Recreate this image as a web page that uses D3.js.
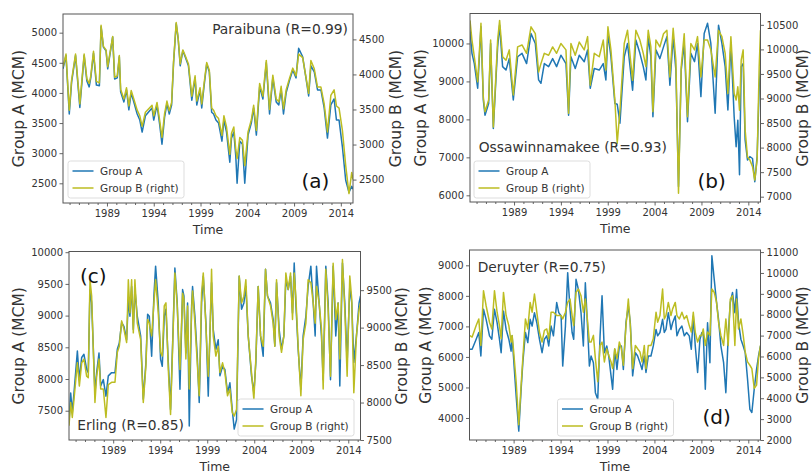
<!DOCTYPE html>
<html><head><meta charset="utf-8">
<script src="https://cdn.jsdelivr.net/npm/d3@7"></script>
<style>body{margin:0;background:#fff}svg{display:block}</style>
</head><body>
<svg id="chart" width="812" height="472"></svg>
<script>
// ---------- shared axis values ----------
const timeDomain = [1984.3, 2015.3];
const timeTicks = [1989, 1994, 1999, 2004, 2009, 2014];
const minorTimeTicks = d3.range(1985, 2016).filter(y => !timeTicks.includes(y));
const seriesNames = ["Group A", "Group B (right)"];

// ---------- (a) Paraibuna ----------
const paraibunaTime = [
1984.30,1984.62,1984.97,1985.22,1985.64,1986.10,1986.56,1986.85,1987.10,1987.27,
1987.56,1987.87,1988.19,1988.37,1988.62,1988.90,1989.08,1989.40,1989.61,1989.82,
1990.10,1990.32,1990.46,1990.81,1991.09,1991.34,1991.59,1991.87,1992.23,1992.51,
1992.76,1993.11,1993.54,1993.82,1994.00,1994.35,1994.63,1994.88,1995.16,1995.41,
1995.66,1995.91,1996.12,1996.40,1996.61,1996.83,1997.11,1997.36,1997.71,1998.07,
1998.42,1998.60,1998.95,1999.13,1999.37,1999.66,1999.94,2000.19,2000.40,2000.65,
2000.93,2001.29,2001.50,2001.78,2002.13,2002.31,2002.56,2002.77,2002.91,2003.20,
2003.48,2003.73,2004.08,2004.43,2004.68,2004.97,2005.32,2005.67,2006.03,2006.38,
2006.73,2007.09,2007.37,2007.62,2007.87,2008.15,2008.50,2008.86,2009.21,2009.49,
2009.92,2010.27,2010.56,2010.80,2011.16,2011.51,2011.87,2012.22,2012.57,2012.93,
2013.28,2013.53,2013.81,2014.17,2014.52,2014.87,2015.16,2015.30];
const paraibunaA = [
4400,4620,3650,4180,4620,3760,4620,4200,4100,4250,
4660,4130,4120,5100,4760,4700,4400,4720,4930,4230,
4250,4600,4020,3850,4050,3720,4000,3850,3650,3550,
3350,3620,3700,3750,3550,3800,3480,3150,3600,3820,
3650,3800,4500,5150,4900,4450,4700,4600,4450,3880,
4250,3800,4050,3750,4100,4480,4350,3680,3650,3550,
3500,3200,3550,3350,2850,3250,3350,2950,2500,3200,
3150,2500,3300,3500,3750,3300,4100,3900,4500,3650,
4250,3850,3800,4050,3650,4000,4200,4380,4250,4740,
4600,4250,3950,4450,4350,4050,4050,3750,3250,3800,
3900,3550,3550,3100,2550,2350,2450,2400];
const paraibunaB = [
4110,4290,3490,3920,4290,3580,4290,3940,3870,3980,
4330,3900,3880,4700,4400,4350,4110,4370,4540,3960,
3980,4270,3790,3650,3810,3550,3770,3650,3490,3410,
3260,3460,3520,3560,3410,3600,3350,3100,3440,3620,
3480,3600,4190,4740,4520,4150,4350,4270,4150,3690,
3980,3620,3810,3580,3860,4170,4060,3520,3490,3410,
3370,3130,3410,3250,2860,3160,3250,2930,2800,3100,
3060,2700,3180,3350,3560,3200,3870,3690,4200,3500,
3990,3650,3610,3830,3510,3780,3940,4090,3980,4290,
4240,3960,3730,4200,4080,3820,3820,3580,3180,3700,
3780,3550,3520,3200,2700,2300,2600,2500];
const paraibunaLeftTicks = [2500,3000,3500,4000,4500,5000];
const paraibunaRightTicks = [2500,3000,3500,4000,4500];

// ---------- (b) Ossawinnamakee ----------
const ossaTime = [
1984.30,1984.51,1984.76,1985.12,1985.47,1985.72,1985.90,1986.29,1986.50,1986.79,
1987.25,1987.46,1987.78,1988.14,1988.49,1988.92,1989.38,1989.85,1990.34,1990.81,
1991.27,1991.62,1991.87,1992.23,1992.69,1993.12,1993.54,1994.00,1994.54,1994.82,
1995.07,1995.53,1995.96,1996.49,1996.85,1997.13,1997.56,1998.09,1998.52,1998.80,
1999.02,1999.34,1999.76,2000.01,2000.30,2000.76,2001.11,2001.65,2002.00,2002.43,
2002.79,2003.07,2003.32,2003.60,2003.82,2004.14,2004.56,2004.95,2005.31,2005.63,
2005.98,2006.27,2006.55,2006.84,2007.16,2007.51,2007.87,2008.26,2008.58,2008.94,
2009.29,2009.65,2010.00,2010.46,2010.82,2011.18,2011.53,2011.82,2012.14,2012.49,
2012.70,2012.88,2013.06,2013.24,2013.45,2013.66,2013.91,2014.16,2014.45,2014.69,
2014.94,2015.16,2015.30];
const ossaA = [
10350,9740,9470,8820,10440,8510,8110,8420,10000,7760,
9910,10480,9390,9300,9600,8510,9650,9740,9470,10260,
10000,9040,8950,9470,9390,9600,9390,9690,9470,8110,
9650,9340,9690,9520,9830,8820,9340,9300,9470,9040,
10260,9650,8420,8400,7900,9650,10000,8770,10090,9740,
9390,9040,10180,9650,8070,9830,9600,9910,10180,8900,
10180,9300,6230,9300,10000,7940,9740,9520,10000,8600,
10260,10530,10000,8160,10480,10000,9390,8250,10000,8070,
7280,7980,6540,9390,9470,7460,6930,7020,6970,6360,
7020,8860,9390];
const ossaB = [
10590,10190,9850,9340,10530,9030,8730,8970,10190,8420,
10190,10590,9850,9780,9990,9070,10050,10090,9920,10460,
10320,9540,9710,9920,9880,10050,9920,10120,9990,8700,
10120,9880,10150,9990,10260,9270,9920,9850,10190,9580,
10460,9990,8970,8090,8760,10120,10390,9370,10390,10190,
9920,9650,10390,10050,8730,10190,10050,10320,10390,9440,
10430,9780,7070,9650,10320,8630,10120,9990,10260,9440,
10190,10190,9990,9440,10390,10260,9920,9100,10260,9100,
8970,9240,8760,9780,9990,8360,7810,7750,7610,7340,
7750,9650,10390];
const ossaLeftTicks = [6000,7000,8000,9000,10000];
const ossaRightTicks = [7000,7500,8000,8500,9000,9500,10000,10500];

// ---------- (c) Erling ----------
const erlingTime = [
1984.30,1984.48,1984.65,1984.83,1985.19,1985.40,1985.65,1985.89,1986.18,1986.35,
1986.53,1986.71,1987.06,1987.24,1987.49,1987.67,1987.95,1988.23,1988.48,1988.83,
1989.19,1989.44,1989.65,1989.90,1990.14,1990.43,1990.61,1990.78,1990.96,1991.14,
1991.31,1991.56,1991.92,1992.20,1992.48,1992.66,1992.84,1993.09,1993.33,1993.51,
1993.79,1994.04,1994.22,1994.43,1994.61,1994.86,1995.10,1995.39,1995.56,1995.81,
1996.10,1996.38,1996.52,1996.73,1996.91,1997.09,1997.34,1997.44,1997.69,1997.94,
1998.15,1998.40,1998.58,1998.86,1999.11,1999.28,1999.46,1999.64,1999.92,2000.17,
2000.35,2000.63,2000.88,2001.16,2001.41,2001.66,2001.87,2002.12,2002.40,2002.65,
2002.90,2003.11,2003.36,2003.71,2003.96,2004.17,2004.42,2004.67,2004.95,2005.20,
2005.41,2005.73,2006.01,2006.19,2006.37,2006.65,2006.90,2007.15,2007.36,2007.61,
2007.86,2008.07,2008.25,2008.42,2008.67,2008.96,2009.20,2009.49,2009.73,2010.02,
2010.27,2010.48,2010.62,2010.90,2011.15,2011.33,2011.61,2011.86,2012.11,2012.39,
2012.67,2012.92,2013.10,2013.38,2013.63,2013.88,2014.16,2014.37,2014.59,2014.87,
2015.15,2015.30];
const erlingA = [
7310,7780,7470,7780,8440,7990,8340,8390,8150,8100,
9410,9200,7780,8100,8410,7890,7990,7730,8050,8100,
8100,8470,8570,8890,8830,8620,9250,8990,9460,8780,
9410,8990,8680,7680,8260,9020,8990,8360,9310,9780,
9200,8310,8200,8990,9100,8260,7520,8890,9750,9200,
7840,9410,9310,8410,9200,7260,9150,9460,8990,8360,
7630,9200,9620,8890,7730,8680,9520,8780,8470,8620,
8050,8200,8150,7780,7940,7520,7210,7360,9620,9100,
9200,9460,8680,8050,7780,8260,9460,8680,8360,9730,
9310,9200,8940,8520,9520,8780,8470,8680,9570,9410,
9620,9040,9830,9200,8470,7840,8680,8990,9460,9780,
9200,8680,9780,9200,8680,7990,9780,9200,7990,9780,
8680,9200,7890,9830,9200,8260,9460,9200,8260,8680,
9200,9310];
const erlingB = [
7690,8000,7800,8040,8530,8220,8530,8580,8350,8330,
9640,9420,8000,8350,8580,8180,8180,7800,8240,8270,
8270,8670,8750,9090,8980,8800,9640,9200,9640,8930,
9640,9060,8840,8000,8490,9110,9060,8890,9330,9640,
9200,8670,8620,9290,9330,8440,7840,9020,9730,9290,
8440,9460,9380,8580,9290,8180,9240,9490,9060,8530,
8090,9460,9730,9020,8350,8840,9780,8890,8620,8750,
8400,8530,8400,8090,8180,7870,7820,7910,9690,9330,
9420,9640,8890,8400,8040,8580,9550,8890,8750,9780,
9420,9290,9060,8750,9640,8890,8670,8890,9730,9510,
9730,9110,9730,9420,8750,8090,8840,9060,9640,9600,
9330,9060,9550,9330,8980,8180,9780,9240,8350,9860,
9110,9330,8580,9910,9240,8350,9690,9380,8130,8890,
9240,9330];
const erlingLeftTicks = [7500,8000,8500,9000,9500,10000];
const erlingRightTicks = [7500,8000,8500,9000,9500];

// ---------- (d) Deruyter ----------
const deruyterTime = [
1984.30,1984.58,1985.01,1985.29,1985.51,1985.79,1986.07,1986.43,1986.68,1986.96,
1987.24,1987.49,1987.67,1987.92,1988.20,1988.49,1988.73,1988.84,1988.98,1989.27,
1989.55,1989.80,1989.98,1990.26,1990.51,1990.76,1990.97,1991.22,1991.47,1991.75,
1992.03,1992.28,1992.53,1992.74,1992.99,1993.24,1993.59,1993.81,1994.06,1994.23,
1994.52,1994.76,1995.01,1995.23,1995.40,1995.65,1995.90,1996.18,1996.43,1996.64,
1996.89,1997.07,1997.25,1997.50,1997.71,1997.96,1998.21,1998.42,1998.67,1998.92,
1999.13,1999.38,1999.55,1999.77,2000.01,2000.26,2000.48,2000.69,2000.97,2001.22,
2001.43,2001.68,2001.97,2002.21,2002.46,2002.68,2002.92,2003.10,2003.35,2003.63,
2003.88,2004.17,2004.34,2004.59,2004.87,2005.05,2005.23,2005.48,2005.76,2005.94,
2006.22,2006.40,2006.65,2006.93,2007.18,2007.43,2007.71,2007.93,2008.14,2008.35,
2008.60,2008.85,2009.06,2009.20,2009.42,2009.66,2009.91,2010.12,2010.37,2010.62,
2010.83,2011.08,2011.37,2011.61,2011.86,2012.08,2012.32,2012.57,2012.75,2012.96,
2013.21,2013.46,2013.67,2013.92,2014.17,2014.38,2014.63,2014.88,2015.09,2015.30];
const deruyterA = [
6250,6250,6580,6800,6030,7560,7230,6690,6580,7560,
7120,6580,6140,7500,6900,6580,6190,6690,6030,4720,
3570,4940,5810,6800,6470,7230,7010,7450,7120,6580,
6140,6580,6690,6360,7010,6690,7780,7450,7340,5700,
7010,8760,7560,6800,6580,8540,8210,7450,6360,8430,
6900,5700,6030,5810,4830,4610,6690,8000,6140,6360,
6030,5380,4940,6250,5590,6360,6360,5590,7120,7670,
7120,5380,6140,6030,5810,5590,6030,5490,6030,6030,
6360,6900,6690,6800,7230,6800,6900,7450,6900,7120,
7340,6690,6900,7010,6690,6800,6690,6250,7340,6360,
5490,6580,6800,6800,4940,7120,5810,9310,8540,7780,
7230,6360,5810,4830,6690,7780,8110,7450,8210,7120,
6580,6360,6140,5270,4280,4180,4940,5590,6030,6360];
const deruyterB = [
7010,6930,7480,7800,6530,9150,8430,7640,7320,9150,
8120,7480,6850,9070,7960,7480,6690,7010,6370,4790,
2730,4630,5900,7800,7320,8590,8120,8990,8120,7170,
6690,7250,7320,6850,8120,8120,7960,7960,7960,7800,
8120,8590,8750,7960,7480,9070,9230,8910,8120,8750,
7640,6690,6690,7010,5900,4790,6530,6690,5740,6370,
6060,5740,5420,6370,5900,6690,6370,5580,7480,8750,
7480,5420,6530,6370,6220,5740,6530,5420,6530,6530,
6850,8120,7640,7960,9230,7800,7960,8590,7960,8280,
8590,7960,7800,8120,7800,7960,7480,7170,8120,7170,
6690,7010,7010,7320,6530,7170,7010,9230,9070,8590,
7640,7010,6530,7800,6530,8750,8910,6530,8750,7320,
7800,7010,6220,5740,5580,5420,4470,4630,5900,6530];
const deruyterLeftTicks = [4000,5000,6000,7000,8000,9000];
const deruyterRightTicks = [2000,3000,4000,5000,6000,7000,8000,9000,10000,11000];

// ---------- layout (positions and styles only) ----------
const FONT = "'DejaVu Sans', 'Liberation Sans', sans-serif";
const COLOR_A = "#1f77b4", COLOR_B = "#bcbd22";
const TEXT = "#333", SPINE = "#555";

const panels = [
  {time: paraibunaTime, a: paraibunaA, b: paraibunaB, lt: paraibunaLeftTicks, rt: paraibunaRightTicks,
   title: "Paraibuna (R=0.99)", tag: "(a)",
   box: {x0: 63, x1: 353, y0: 14, y1: 203}, ld: [2173, 5310], rd: [2166, 4862],
   titlePos: {x: 348, y: 33.5, anchor: "end"}, tagPos: {x: 301.5, y: 187.5},
   legendPos: {x: 68, y: 161}, lLabX: 19, rLabX: 396},
  {time: ossaTime, a: ossaA, b: ossaB, lt: ossaLeftTicks, rt: ossaRightTicks,
   title: "Ossawinnamakee (R=0.93)", tag: "(b)",
   box: {x0: 470, x1: 760.5, y0: 13.5, y1: 202}, ld: [5824, 10789], rd: [6892, 10731],
   titlePos: {x: 478.7, y: 151.5, anchor: "start"}, tagPos: {x: 697.5, y: 187.5},
   legendPos: {x: 474, y: 161}, lLabX: 420.5, rLabX: 803},
  {time: erlingTime, a: erlingA, b: erlingB, lt: erlingLeftTicks, rt: erlingRightTicks,
   title: "Erling (R=0.85)", tag: "(c)",
   box: {x0: 69, x1: 360.5, y0: 251.5, y1: 440}, ld: [7038, 10011], rd: [7500, 10016],
   titlePos: {x: 77.3, y: 429.5, anchor: "start"}, tagPos: {x: 80, y: 282.5},
   legendPos: {x: 238, y: 399}, lLabX: 19, rLabX: 401.5},
  {time: deruyterTime, a: deruyterA, b: deruyterB, lt: deruyterLeftTicks, rt: deruyterRightTicks,
   title: "Deruyter (R=0.75)", tag: "(d)",
   box: {x0: 469.5, x1: 760.5, y0: 250, y1: 440}, ld: [3279, 9502], rd: [2000, 11100],
   titlePos: {x: 477.7, y: 272, anchor: "start"}, tagPos: {x: 702.5, y: 424},
   legendPos: {x: 557.5, y: 399}, lLabX: 426, rLabX: 803}
];

const svg = d3.select("#chart");
svg.append("rect").attr("width", 812).attr("height", 472).attr("fill", "#fff");
const defs = svg.append("defs");

function styleAxis(g) {
  g.select(".domain").remove();
  g.selectAll(".tick line").attr("stroke", SPINE).attr("stroke-width", 0.9);
  g.selectAll(".tick text").attr("fill", TEXT).attr("font-size", 10).attr("font-family", FONT);
  g.attr("font-family", FONT);
}

panels.forEach((p, i) => {
  const {x0, x1, y0, y1} = p.box;
  const x = d3.scaleLinear().domain(timeDomain).range([x0, x1]);
  const yL = d3.scaleLinear().domain(p.ld).range([y1, y0]);
  const yR = d3.scaleLinear().domain(p.rd).range([y1, y0]);
  const g = svg.append("g");

  defs.append("clipPath").attr("id", "clip" + i)
    .append("rect").attr("x", x0).attr("y", y0).attr("width", x1 - x0).attr("height", y1 - y0);

  const rowsA = p.time.map((t, k) => [t, p.a[k]]);
  const rowsB = p.time.map((t, k) => [t, p.b[k]]);
  const lineA = d3.line().x(d => x(d[0])).y(d => yL(d[1]));
  const lineB = d3.line().x(d => x(d[0])).y(d => yR(d[1]));
  const plot = g.append("g").attr("clip-path", `url(#clip${i})`);
  plot.append("path").datum(rowsA).attr("d", lineA).attr("fill", "none")
    .attr("stroke", COLOR_A).attr("stroke-width", 1.5).attr("stroke-linejoin", "round");
  plot.append("path").datum(rowsB).attr("d", lineB).attr("fill", "none")
    .attr("stroke", COLOR_B).attr("stroke-width", 1.5).attr("stroke-linejoin", "round");

  // axes
  g.append("g").attr("transform", `translate(0,${y1})`)
    .call(d3.axisBottom(x).tickValues(timeTicks).tickFormat(d3.format("d")).tickSize(3.5).tickPadding(3.5))
    .call(styleAxis);
  g.append("g").attr("transform", `translate(0,${y1})`)
    .call(d3.axisBottom(x).tickValues(minorTimeTicks).tickFormat("").tickSize(2))
    .call(styleAxis);
  g.append("g").attr("transform", `translate(${x0},0)`)
    .call(d3.axisLeft(yL).tickValues(p.lt).tickFormat(d3.format("d")).tickSize(3.5).tickPadding(2.5))
    .call(styleAxis);
  g.append("g").attr("transform", `translate(${x1},0)`)
    .call(d3.axisRight(yR).tickValues(p.rt).tickFormat(d3.format("d")).tickSize(3.5).tickPadding(2.5))
    .call(styleAxis);

  // frame
  g.append("rect").attr("x", x0).attr("y", y0).attr("width", x1 - x0).attr("height", y1 - y0)
    .attr("fill", "none").attr("stroke", SPINE).attr("stroke-width", 1);

  // axis labels
  const cy = (y0 + y1) / 2;
  g.append("text").attr("transform", `translate(${p.lLabX},${cy}) rotate(-90)`)
    .attr("text-anchor", "middle").attr("dominant-baseline", "central")
    .attr("font-family", FONT).attr("font-size", 15.5).attr("fill", TEXT).text("Group A (MCM)");
  g.append("text").attr("transform", `translate(${p.rLabX},${cy}) rotate(-90)`)
    .attr("text-anchor", "middle").attr("dominant-baseline", "central")
    .attr("font-family", FONT).attr("font-size", 15.5).attr("fill", TEXT).text("Group B (MCM)");
  g.append("text").attr("x", (x0 + x1) / 2).attr("y", y1 + 30.5)
    .attr("text-anchor", "middle").attr("font-family", FONT).attr("font-size", 12.5)
    .attr("fill", TEXT).text("Time");

  // title and tag
  g.append("text").attr("x", p.titlePos.x).attr("y", p.titlePos.y).attr("text-anchor", p.titlePos.anchor)
    .attr("font-family", FONT).attr("font-size", 13.8).attr("fill", TEXT).text(p.title);
  g.append("text").attr("x", p.tagPos.x).attr("y", p.tagPos.y)
    .attr("font-family", FONT).attr("font-size", 20).attr("fill", "#111").text(p.tag);

  // legend
  const lg = g.append("g").attr("transform", `translate(${p.legendPos.x},${p.legendPos.y})`);
  lg.append("rect").attr("width", 116).attr("height", 37).attr("rx", 2.5)
    .attr("fill", "#fff").attr("fill-opacity", 0.85).attr("stroke", "#d4d4d4").attr("stroke-width", 0.8);
  [COLOR_A, COLOR_B].forEach((c, k) => {
    const ly = 10 + k * 17;
    lg.append("line").attr("x1", 4.5).attr("x2", 25.5).attr("y1", ly).attr("y2", ly)
      .attr("stroke", c).attr("stroke-width", 1.5);
    lg.append("text").attr("x", 32).attr("y", ly).attr("dominant-baseline", "central")
      .attr("font-family", FONT).attr("font-size", 10.5).attr("fill", TEXT).text(seriesNames[k]);
  });
});
</script>
</body></html>
